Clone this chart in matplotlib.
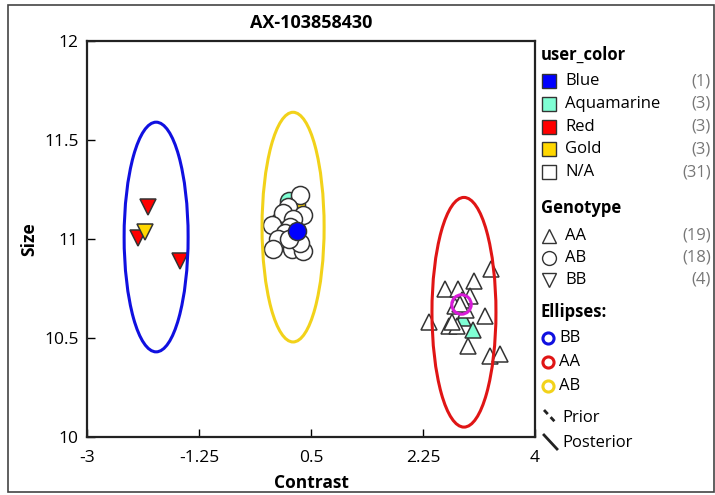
import matplotlib.pyplot as plt
from matplotlib.patches import Ellipse, Rectangle
from matplotlib.lines import Line2D

plt.rcParams['font.family'] = ['Open Sans', 'DejaVu Sans']

# genotype AA (triangles up)
aa_x = [2.88, 2.34, 2.59, 2.80, 3.05, 3.31, 2.98, 2.92, 3.22, 2.66, 2.78, 2.95, 3.30, 3.45, 2.70, 2.86, 2.75, 2.83, 3.03]
aa_y = [10.60, 10.58, 10.75, 10.75, 10.79, 10.85, 10.71, 10.64, 10.61, 10.56, 10.56, 10.46, 10.41, 10.42, 10.58, 10.69, 10.66, 10.67, 10.54]
aa_col = ['Aquamarine'] + ['N/A'] * 17 + ['Aquamarine']

# genotype AB (circles)
ab_x = [0.16, 0.27, 0.02, 0.33, 0.14, 0.06, 0.375, -0.11, 0.22, 0.17, 0.09, -0.02, -0.09, 0.20, 0.375, 0.33, 0.16, 0.28]
ab_y = [11.19, 11.17, 11.09, 11.22, 11.16, 11.13, 11.12, 11.07, 11.10, 11.06, 11.03, 11.00, 10.95, 10.95, 10.94, 10.98, 11.00, 11.04]
ab_col = ['Aquamarine', 'Gold', 'Gold'] + ['N/A'] * 14 + ['Blue']

# genotype BB (triangles down)
bb_x = [-2.05, -2.20, -2.09, -1.55]
bb_y = [11.16, 11.005, 11.035, 10.89]
bb_col = ['Red', 'Red', 'Gold', 'Red']

# ellipses (posterior): center x, center y, width, height
ell_names = ['BB', 'AA', 'AB']
ell_cx = [-1.92, 2.89, 0.22]
ell_cy = [11.01, 10.63, 11.06]
ell_w = [1.0, 1.0, 0.97]
ell_h = [1.16, 1.16, 1.16]
ell_colors = ['#1010e0', '#e01515', '#f2d21a']

# prior centre marker
prior_x, prior_y = 2.84, 10.67

user_colors = ['Blue', 'Aquamarine', 'Red', 'Gold', 'N/A']
user_counts = [1, 3, 3, 3, 31]
geno_names = ['AA', 'AB', 'BB']
geno_counts = [19, 18, 4]

fill = {'Blue': '#0000ff', 'Aquamarine': '#7fffd4', 'Red': '#ff0000',
        'Gold': '#ffd700', 'N/A': 'white'}
edge = '#333333'

fig = plt.figure(figsize=(7.15, 4.95), dpi=100)
ax = fig.add_axes([87 / 715, 1 - 437 / 495, 448 / 715, 396 / 495])

for x, y, c in zip(aa_x, aa_y, aa_col):
    ax.plot(x, y, marker='^', ms=11.5, mfc=fill[c], mec=edge, mew=1.1, ls='none', zorder=3)
for x, y, c in zip(ab_x, ab_y, ab_col):
    ax.plot(x, y, marker='o', ms=13, mfc=fill[c], mec=edge, mew=1.1, ls='none', zorder=3)
for x, y, c in zip(bb_x, bb_y, bb_col):
    ax.plot(x, y, marker='v', ms=11.5, mfc=fill[c], mec=edge, mew=1.1, ls='none', zorder=3)

for cx, cy, w, h, col in zip(ell_cx, ell_cy, ell_w, ell_h, ell_colors):
    ax.add_patch(Ellipse((cx, cy), w, h, fill=False, ec=col, lw=2.2, zorder=4))
ax.plot(prior_x, prior_y, marker='o', ms=14, mfc='none', mec='#d81bd8', mew=2.2, zorder=5)

ax.set_xlim(-3, 4)
ax.set_ylim(10, 12)
ax.set_xticks([-3, -1.25, 0.5, 2.25, 4])
ax.set_xticklabels(['-3', '-1.25', '0.5', '2.25', '4'])
ax.set_yticks([10, 10.5, 11, 11.5, 12])
ax.set_yticklabels(['10', '10.5', '11', '11.5', '12'])
ax.tick_params(direction='in', length=6, width=1, labelsize=12.5)
ax.tick_params(axis='x', pad=9)
ax.tick_params(axis='y', pad=6)
for s in ax.spines.values():
    s.set_linewidth(1.6)
    s.set_color('#222222')
ax.set_title('AX-103858430', fontsize=13, fontweight='bold', pad=9.5)
ax.set_xlabel('Contrast', fontsize=12.5, fontweight='bold', labelpad=6)
ax.set_ylabel('Size', fontsize=12.5, fontweight='bold', labelpad=4)

# legend drawn in pixel space
lg = fig.add_axes([0, 0, 1, 1], zorder=-1)
lg.set_xlim(0, 715)
lg.set_ylim(495, 0)
lg.axis('off')
lg.add_patch(Rectangle((8, 5), 706, 487, fill=False, ec='#444444', lw=1.2))

fs = 12
lg.text(541, 55, 'user_color', fontsize=fs, fontweight='bold', va='center')
for i, (name, n) in enumerate(zip(user_colors, user_counts)):
    y = 81 + i * 22.8
    lg.plot(549, y, marker='s', ms=10, mfc=fill[name], mec=edge, mew=1)
    lg.text(565, y, name, fontsize=fs, va='center')
    lg.text(711, y, '(%d)' % n, fontsize=fs, va='center', ha='right', color='#777777')

lg.text(541, 208, 'Genotype', fontsize=fs, fontweight='bold', va='center')
for i, (name, n, m) in enumerate(zip(geno_names, geno_counts, ['^', 'o', 'v'])):
    y = 236 + i * 22
    lg.plot(549, y, marker=m, ms=10, mfc='white', mec=edge, mew=1)
    lg.text(565, y, name, fontsize=fs, va='center')
    lg.text(711, y, '(%d)' % n, fontsize=fs, va='center', ha='right', color='#777777')

lg.text(541, 312, 'Ellipses:', fontsize=fs, fontweight='bold', va='center')
for i, (name, col) in enumerate(zip(ell_names, ell_colors)):
    y = 338 + i * 24
    lg.plot(548, y, marker='o', ms=8, mfc='white', mec=col, mew=2.2)
    lg.text(559, y, name, fontsize=fs, va='center')
lg.add_line(Line2D([544, 557], [410, 424], color='#222222', lw=2, ls=(0, (2, 1.5))))
lg.text(562, 418, 'Prior', fontsize=fs, va='center')
lg.add_line(Line2D([544, 557], [435, 449], color='#222222', lw=2))
lg.text(562, 443, 'Posterior', fontsize=fs, va='center')

fig.savefig('out.png', dpi=100)
